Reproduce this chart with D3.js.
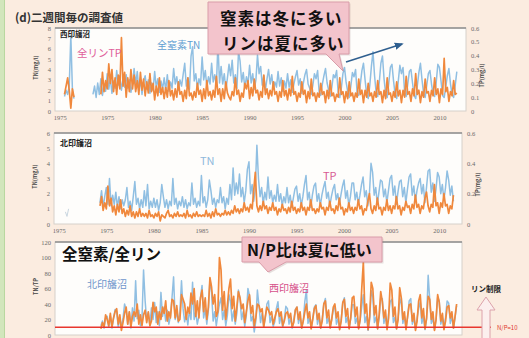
<!DOCTYPE html>
<html><head><meta charset="utf-8">
<script src="https://cdn.jsdelivr.net/npm/d3@7"></script>
<style>
html,body{margin:0;padding:0;background:#fbece0;}
svg{display:block;}
</style></head><body>
<svg id="chart" width="529" height="338"></svg>
<script>
// ---- data: biweekly survey values, sampled every two months ----
const STEP = 1 / 6;                 // years between samples
const tickYears  = [1970, 1975, 1980, 1985, 1990, 1995, 2000, 2005, 2010];
const tickLabels = ["1975", "1975", "1980", "1985", "1990", "1995", "2000", "2005", "2010"];

// 西印旛沼 total nitrogen (mg/l)
const tnWestEarlyStart = 1970.5;
const tnWestEarly = [1.4, 2.0, 1.6, 2.4, 7.3, 2.1, 1.2];
const tnWestStart = 1973.5;
const tnWest = [
  1.6, 2.4, 1.3,
  2.7, 1.6, 3.1, 1.5, 2.6, 1.9,
  3.6, 2.1, 3.2, 1.7, 2.9, 2.2,
  3.9, 2.5, 3.4, 2.0, 3.1, 2.3,
  3.5, 2.2, 3.0, 1.8, 2.6, 4.1,
  2.6, 3.8, 2.0, 3.0, 1.6, 2.9,
  3.4, 2.1, 3.0, 1.7, 2.7, 2.0,
  3.8, 2.3, 3.1, 1.8, 2.9, 2.1,
  3.2, 2.0, 3.5, 1.9, 2.8, 2.2,
  4.1, 2.6, 3.3, 2.0, 3.0, 2.4,
  3.5, 4.6, 2.4, 3.2, 2.1, 5.3,
  6.2, 2.9, 3.6, 2.2, 3.1, 2.5,
  5.2, 3.0, 3.9, 2.3, 3.3, 2.6,
  4.6, 2.8, 3.5, 2.4, 6.5, 2.7,
  4.3, 2.6, 3.6, 2.0, 3.2, 4.5,
  3.4, 4.9, 2.7, 3.5, 2.2, 5.7,
  4.8, 2.8, 3.7, 2.2, 3.3, 2.6,
  4.4, 2.7, 3.6, 2.1, 3.0, 5.4,
  3.6, 4.3, 2.5, 3.4, 2.0, 3.1,
  4.0, 2.6, 3.5, 2.1, 2.8, 2.3,
  3.8, 2.4, 3.2, 1.9, 2.9, 2.2,
  3.6, 2.3, 3.0, 1.8, 2.6, 3.3,
  3.9, 2.5, 3.1, 1.7, 2.7, 3.5,
  4.0, 2.6, 2.2, 1.6, 2.5, 3.6,
  3.1, 3.9, 1.8, 1.5, 2.6, 3.4,
  4.1, 2.7, 2.0, 1.4, 2.3, 3.5,
  3.2, 3.9, 1.8, 1.3, 2.2, 3.6,
  4.2, 2.8, 1.9, 1.3, 2.4, 3.7,
  3.3, 4.0, 1.7, 1.5, 2.6, 3.9,
  4.6, 3.0, 1.6, 1.2, 2.5, 4.3,
  5.7, 3.4, 1.8, 1.4, 2.8, 4.6,
  5.3, 3.1, 1.7, 1.3, 2.7, 4.2,
  4.5, 2.9, 1.6, 1.2, 2.9, 4.4,
  3.6, 4.2, 1.8, 1.4, 2.6, 3.8,
  4.0, 2.7, 1.5, 1.2, 2.4, 3.7,
  4.6, 3.0, 1.7, 1.3, 2.5, 3.6,
  3.9, 2.6, 1.6, 1.4, 2.8, 4.5,
  4.2, 2.9, 1.5, 1.3, 2.3, 3.4,
  4.1, 2.6, 1.6, 1.3, 2.5, 3.8
];

// 西印旛沼 total phosphorus (mg/l)
const tpWestEarlyStart = 1970.5;
const tpWestEarly = [0.12, 0.18, 0.24, 0.15, 0.02, 0.16, 0.10];
const tpWestStart = 1974 + 2 / 6;
const tpWest = [
  0.12, 0.28, 0.14, 0.22,
  0.16, 0.34, 0.20, 0.30, 0.14, 0.24,
  0.12, 0.26, 0.16, 0.53, 0.18, 0.28,
  0.10, 0.24, 0.14, 0.30, 0.16, 0.26,
  0.14, 0.22, 0.12, 0.28, 0.15, 0.23,
  0.11, 0.21, 0.13, 0.27, 0.14, 0.20,
  0.08, 0.18, 0.11, 0.24, 0.12, 0.17,
  0.09, 0.17, 0.10, 0.22, 0.11, 0.15,
  0.08, 0.16, 0.10, 0.21, 0.12, 0.14,
  0.07, 0.15, 0.09, 0.24, 0.11, 0.13,
  0.08, 0.14, 0.10, 0.20, 0.12, 0.15,
  0.07, 0.16, 0.09, 0.22, 0.11, 0.14,
  0.08, 0.15, 0.10, 0.25, 0.12, 0.16,
  0.07, 0.16, 0.09, 0.21, 0.13, 0.10,
  0.08, 0.14, 0.11, 0.24, 0.12, 0.15,
  0.07, 0.13, 0.10, 0.20, 0.16, 0.22,
  0.09, 0.17, 0.11, 0.23, 0.13, 0.15,
  0.08, 0.14, 0.10, 0.26, 0.12, 0.16,
  0.09, 0.15, 0.11, 0.21, 0.12, 0.14,
  0.07, 0.14, 0.10, 0.22, 0.11, 0.15,
  0.08, 0.16, 0.11, 0.25, 0.12, 0.14,
  0.07, 0.13, 0.10, 0.21, 0.12, 0.15,
  0.06, 0.14, 0.09, 0.23, 0.11, 0.13,
  0.07, 0.13, 0.10, 0.20, 0.12, 0.14,
  0.06, 0.15, 0.09, 0.22, 0.11, 0.13,
  0.07, 0.12, 0.10, 0.24, 0.12, 0.14,
  0.06, 0.14, 0.09, 0.21, 0.11, 0.13,
  0.07, 0.13, 0.10, 0.23, 0.12, 0.15,
  0.06, 0.15, 0.10, 0.20, 0.11, 0.13,
  0.07, 0.14, 0.10, 0.22, 0.12, 0.14,
  0.06, 0.15, 0.09, 0.24, 0.12, 0.13,
  0.07, 0.14, 0.10, 0.21, 0.11, 0.15,
  0.06, 0.15, 0.10, 0.25, 0.12, 0.14,
  0.07, 0.16, 0.11, 0.27, 0.12, 0.15,
  0.06, 0.14, 0.10, 0.23, 0.13, 0.14,
  0.07, 0.15, 0.11, 0.24, 0.12, 0.16,
  0.06, 0.16, 0.12, 0.38, 0.14, 0.17,
  0.07, 0.14, 0.11, 0.22, 0.12, 0.13
];

// 北印旛沼 total nitrogen (mg/l)
const tnNorthEarlyStart = 1970.7;
const tnNorthEarly = [0.8, 0.5, 1.0];
const tnNorthStart = 1974 + 2 / 6;
const tnNorth = [
  1.4, 2.2, 1.1, 1.8,
  2.4, 1.3, 3.0, 1.2, 1.9, 1.3,
  2.1, 1.1, 1.8, 1.0, 1.6, 1.2,
  1.6, 2.4, 1.1, 1.5, 0.9, 1.8,
  2.8, 1.3, 1.7, 1.0, 1.6, 1.1,
  2.2, 1.2, 2.6, 1.0, 1.5, 1.1,
  1.7, 1.1, 1.6, 0.9, 1.4, 2.6,
  1.8, 1.1, 1.6, 1.0, 1.5, 1.2,
  3.0, 1.3, 1.7, 1.0, 1.5, 1.2,
  1.8, 1.1, 1.6, 1.0, 1.4, 1.2,
  2.7, 1.3, 1.7, 1.1, 1.5, 1.2,
  3.2, 1.4, 1.8, 1.1, 1.6, 2.9,
  2.2, 1.3, 1.7, 1.1, 1.6, 1.4,
  2.4, 1.4, 1.8, 1.0, 1.7, 1.3,
  2.6, 1.6, 3.7, 1.9, 2.7, 2.0,
  3.3, 1.8, 2.4, 1.4, 2.2, 3.6,
  4.1, 2.0, 2.6, 1.5, 2.3, 5.2,
  3.0, 1.8, 2.4, 1.3, 2.1, 1.6,
  3.1, 1.7, 2.2, 1.4, 1.9, 1.5,
  2.6, 1.5, 2.0, 1.2, 1.8, 1.4,
  2.4, 1.4, 1.9, 1.1, 1.7, 2.3,
  2.5, 1.5, 2.0, 1.2, 1.8, 2.6,
  3.2, 1.6, 2.1, 1.1, 1.9, 2.5,
  2.7, 1.5, 2.0, 1.2, 1.9, 2.4,
  2.8, 1.7, 2.1, 1.2, 1.8, 2.3,
  2.6, 1.6, 2.0, 1.3, 1.9, 2.5,
  2.9, 1.7, 2.2, 1.2, 1.8, 2.7,
  2.7, 1.6, 2.1, 1.3, 1.9, 2.6,
  3.1, 1.8, 2.2, 1.2, 2.0, 4.0,
  3.4, 1.9, 2.4, 1.3, 2.1, 2.9,
  2.8, 1.8, 2.3, 1.4, 2.2, 3.0,
  3.2, 1.9, 2.5, 1.3, 2.1, 2.8,
  2.9, 1.8, 2.4, 1.4, 2.3, 3.1,
  3.3, 1.9, 2.5, 1.5, 2.2, 2.7,
  3.0, 2.0, 2.6, 1.4, 2.4, 3.5,
  3.6, 2.1, 2.7, 1.5, 2.3, 3.4,
  3.1, 2.0, 2.6, 1.6, 2.4, 3.5,
  2.9, 1.9, 2.5, 1.5
];

// 北印旛沼 total phosphorus (mg/l)
const tpNorthStart = 1974 + 2 / 6;
const tpNorth = [
  0.12, 0.18, 0.09, 0.14,
  0.10, 0.25, 0.12, 0.17, 0.08, 0.12,
  0.06, 0.13, 0.08, 0.16, 0.07, 0.10,
  0.05, 0.09, 0.06, 0.12, 0.05, 0.08,
  0.04, 0.08, 0.05, 0.10, 0.05, 0.07,
  0.05, 0.07, 0.04, 0.09, 0.05, 0.06,
  0.04, 0.07, 0.05, 0.08, 0.02, 0.06,
  0.05, 0.04, 0.07, 0.09, 0.05, 0.06,
  0.04, 0.07, 0.05, 0.08, 0.05, 0.06,
  0.05, 0.07, 0.04, 0.09, 0.05, 0.06,
  0.04, 0.07, 0.05, 0.08, 0.05, 0.06,
  0.05, 0.06, 0.05, 0.09, 0.05, 0.07,
  0.04, 0.08, 0.05, 0.10, 0.06, 0.07,
  0.05, 0.07, 0.06, 0.09, 0.06, 0.08,
  0.06, 0.09, 0.07, 0.12, 0.08, 0.10,
  0.07, 0.10, 0.08, 0.14, 0.09, 0.11,
  0.08, 0.13, 0.10, 0.22, 0.34, 0.12,
  0.08, 0.12, 0.09, 0.15, 0.10, 0.12,
  0.07, 0.11, 0.09, 0.14, 0.09, 0.11,
  0.06, 0.10, 0.08, 0.13, 0.09, 0.10,
  0.07, 0.11, 0.08, 0.15, 0.09, 0.11,
  0.07, 0.10, 0.08, 0.14, 0.09, 0.11,
  0.06, 0.11, 0.09, 0.16, 0.09, 0.10,
  0.07, 0.10, 0.08, 0.14, 0.10, 0.11,
  0.06, 0.11, 0.09, 0.15, 0.09, 0.10,
  0.07, 0.12, 0.09, 0.17, 0.10, 0.11,
  0.06, 0.10, 0.08, 0.14, 0.09, 0.11,
  0.07, 0.11, 0.09, 0.16, 0.10, 0.12,
  0.06, 0.10, 0.09, 0.15, 0.20, 0.10,
  0.07, 0.12, 0.09, 0.17, 0.10, 0.11,
  0.06, 0.11, 0.09, 0.16, 0.09, 0.12,
  0.07, 0.12, 0.10, 0.18, 0.10, 0.12,
  0.06, 0.11, 0.09, 0.15, 0.11, 0.12,
  0.07, 0.13, 0.10, 0.19, 0.11, 0.13,
  0.07, 0.12, 0.10, 0.17, 0.21, 0.12,
  0.08, 0.13, 0.11, 0.26, 0.12, 0.14,
  0.07, 0.14, 0.11, 0.20, 0.12, 0.13,
  0.07, 0.12, 0.10, 0.19
];

// TN/TP ratios
const npNorthStart = 1974 + 2 / 6;
const npNorth = [
  12, 18, 9, 22,
  24, 10, 25, 9, 21, 33,
  30, 10, 22, 10, 21, 40,
  32, 14, 30, 9, 35, 18,
  70, 21, 32, 12, 20, 84,
  44, 18, 29, 12, 35, 20,
  42, 16, 30, 12, 55, 24,
  36, 18, 32, 14, 24, 48,
  75, 20, 30, 16, 30, 70,
  34, 17, 28, 13, 32, 20,
  68, 20, 30, 14, 24, 48,
  64, 22, 34, 14, 32, 72,
  55, 18, 30, 12, 26, 40,
  48, 20, 32, 12, 25, 52,
  43, 18, 31, 14, 28, 58,
  47, 20, 30, 11, 25, 60,
  51, 18, 24, 4, 18, 58,
  38, 16, 28, 11, 21, 40,
  44, 16, 24, 11, 17, 34,
  43, 15, 25, 10, 20, 37,
  34, 14, 22, 9, 19, 33,
  36, 15, 24, 9, 18, 43,
  58, 15, 22, 9, 21, 36,
  39, 14, 23, 9, 21, 40,
  47, 15, 22, 10, 20, 33,
  37, 14, 21, 8, 20, 42,
  48, 16, 23, 9, 21, 39,
  39, 15, 22, 9, 20, 37,
  52, 16, 24, 6, 19, 57,
  49, 16, 23, 8, 22, 48,
  47, 15, 24, 9, 28, 43,
  46, 16, 23, 8, 23, 40,
  48, 15, 24, 9, 23, 44,
  47, 14, 22, 8, 22, 34,
  43, 15, 24, 7, 20, 77,
  45, 15, 22, 7, 20, 49,
  44, 14, 22, 8, 23, 44,
  41, 15, 24, 9, 22, 38
];
const npWestStart = 1974 + 2 / 6;
const npWest = [
  8, 16, 10, 26,
  20, 12, 28, 10, 22, 30,
  34, 14, 26, 6, 16, 28,
  36, 14, 30, 10, 24, 30,
  24, 40, 14, 26, 12, 26,
  32, 16, 30, 12, 18, 42,
  30, 36, 14, 30, 20, 36,
  28, 44, 18, 30, 22, 46,
  44, 22, 38, 18, 20, 52,
  46, 40, 20, 36, 28, 54,
  40, 60, 24, 44, 22, 48,
  58, 30, 48, 20, 36, 74,
  62, 40, 52, 24, 30, 100,
  84, 32, 56, 20, 38, 60,
  72, 34, 50, 18, 36, 56,
  48, 34, 40, 16, 30, 44,
  52, 28, 38, 12, 22, 40,
  38, 30, 34, 10, 24, 36,
  32, 26, 30, 14, 22, 30,
  34, 24, 30, 12, 18, 28,
  30, 22, 28, 10, 16, 32,
  36, 20, 30, 9, 18, 30,
  40, 22, 30, 8, 20, 34,
  38, 20, 28, 9, 18, 40,
  44, 22, 32, 9, 20, 36,
  40, 22, 30, 7, 18, 42,
  46, 24, 34, 8, 22, 48,
  50, 24, 36, 8, 20, 60,
  94, 28, 40, 7, 24, 68,
  60, 26, 38, 8, 26, 56,
  43, 22, 32, 7, 22, 67,
  58, 24, 36, 8, 20, 61,
  48, 20, 30, 7, 24, 39,
  40, 18, 28, 6, 18, 44,
  52, 22, 34, 8, 22, 50,
  46, 20, 30, 6, 20, 52,
  42, 18, 28, 7, 18, 36,
  38, 22, 30, 9, 24, 40
];
const npLimit = 10;

// ---- drawing ----
const W = 529, H = 338;
const BLUE = "#90bfe2", ORANGE = "#f0883c";
const svg = d3.select("#chart");
const CJK = "'Noto Sans CJK JP', 'Noto Sans', sans-serif";
const SERIF = "'Liberation Serif', 'DejaVu Serif', serif";

svg.append("rect").attr("width", W).attr("height", H).attr("fill", "#fbece0");
svg.append("rect").attr("x", 0).attr("y", 0).attr("width", 4).attr("height", H).attr("fill", "#d2e6bc");
svg.append("line").attr("x1", 4.5).attr("x2", 4.5).attr("y1", 0).attr("y2", H)
  .attr("stroke", "#b9d7a0").attr("stroke-width", 1);

const toPoints = (start, vals) => vals.map((v, i) => ({ t: start + i * STEP, v }));

function panel(cfg, idx) {
  const g = svg.append("g");
  const x = d3.scaleLinear().domain(cfg.xDomain).range([cfg.x0, cfg.x1]);
  const yL = d3.scaleLinear().domain(cfg.leftDomain).range([cfg.y1, cfg.y0]);
  const yR = cfg.rightDomain ? d3.scaleLinear().domain(cfg.rightDomain).range([cfg.y1, cfg.y0]) : null;

  g.append("rect").attr("x", cfg.x0).attr("y", cfg.y0)
    .attr("width", cfg.x1 - cfg.x0).attr("height", cfg.y1 - cfg.y0)
    .attr("fill", "#fefdfb").attr("stroke", "#d6d0ca").attr("stroke-width", 1);
  g.append("line").attr("x1", cfg.x0).attr("x2", cfg.x1).attr("y1", cfg.y0).attr("y2", cfg.y0)
    .attr("stroke", "#8e8e8e").attr("stroke-width", 1.3);

  const clipId = "clip" + idx;
  svg.append("clipPath").attr("id", clipId).append("rect")
    .attr("x", cfg.x0).attr("y", cfg.y0 - 1).attr("width", cfg.x1 - cfg.x0).attr("height", cfg.y1 - cfg.y0 + 1);
  const lines = g.append("g").attr("clip-path", `url(#${clipId})`);

  cfg.series.forEach(s => {
    const ys = s.axis === "right" ? yR : yL;
    const line = d3.line().x(d => x(d.t)).y(d => ys(d.v));
    lines.append("path").datum(toPoints(s.start, s.values))
      .attr("d", line).attr("fill", "none")
      .attr("stroke", s.color).attr("stroke-width", s.width)
      .attr("stroke-linejoin", "round");
  });

  const styleAxis = sel => {
    sel.select(".domain").remove();
    sel.selectAll("text").style("font-family", SERIF).style("font-size", "6.5px").attr("fill", "#6a6a6a");
  };

  g.append("g").attr("transform", `translate(${cfg.x0},0)`)
    .call(d3.axisLeft(yL).tickValues(cfg.leftTicks).tickSize(0).tickPadding(4).tickFormat(d3.format("d")))
    .call(styleAxis);

  if (yR) {
    g.append("g").attr("transform", `translate(${cfg.x1},0)`)
      .call(d3.axisRight(yR).tickValues(cfg.rightTicks).tickSize(0).tickPadding(5)
        .tickFormat(d => d === 0 ? "0" : d3.format(".1f")(d)))
      .call(styleAxis);
  }
  if (cfg.xLabels) {
    g.append("g").attr("transform", `translate(0,${cfg.y1})`)
      .call(d3.axisBottom(x).tickValues(tickYears).tickSize(0).tickPadding(4)
        .tickFormat((d, i) => tickLabels[i]))
      .call(styleAxis);
  }

  const vtitle = (text, tx, ty) => g.append("text")
    .attr("transform", `translate(${tx},${ty}) rotate(-90)`)
    .attr("text-anchor", "middle").attr("font-family", CJK).attr("font-weight", "bold")
    .attr("font-size", 5.5).attr("fill", "#444").text(text);
  vtitle(cfg.leftTitle, cfg.x0 - 17, (cfg.y0 + cfg.y1) / 2 - 2);
  if (cfg.rightTitle) vtitle(cfg.rightTitle, cfg.x1 + 18, (cfg.y0 + cfg.y1) / 2 + 6);

  return { g, x, yL, yR };
}

// panel 1: 西印旛沼
const p1 = panel({
  x0: 55, x1: 466, y0: 28, y1: 111, xDomain: [1969.5, 2012.8],
  leftDomain: [0, 8], leftTicks: d3.range(0, 9, 1),
  rightDomain: [0, 0.6], rightTicks: [0, 0.1, 0.2, 0.3, 0.4, 0.5, 0.6],
  xLabels: true, leftTitle: "TN(mg/l)", rightTitle: "TP(mg/l)",
  series: [
    { start: tnWestEarlyStart, values: tnWestEarly, axis: "left", color: BLUE, width: 1.5 },
    { start: tnWestStart, values: tnWest, axis: "left", color: BLUE, width: 1.5 },
    { start: tpWestEarlyStart, values: tpWestEarly, axis: "right", color: ORANGE, width: 1.7 },
    { start: tpWestStart, values: tpWest, axis: "right", color: ORANGE, width: 1.7 }
  ]
}, 1);

// panel 2: 北印旛沼
const p2 = panel({
  x0: 54, x1: 462, y0: 133, y1: 224, xDomain: [1969.5, 2012.4],
  leftDomain: [0, 6], leftTicks: d3.range(0, 7, 1),
  rightDomain: [0, 0.6], rightTicks: [0, 0.2, 0.4, 0.6],
  xLabels: true, leftTitle: "TN(mg/l)", rightTitle: "TP(mg/l)",
  series: [
    { start: tnNorthEarlyStart, values: tnNorthEarly, axis: "left", color: "#c9d6e0", width: 1.0 },
    { start: tnNorthStart, values: tnNorth, axis: "left", color: BLUE, width: 1.5 },
    { start: tpNorthStart, values: tpNorth, axis: "right", color: ORANGE, width: 1.7 }
  ]
}, 2);

// panel 3: TN/TP
const p3 = panel({
  x0: 55, x1: 462, y0: 242, y1: 335, xDomain: [1969.5, 2012.4],
  leftDomain: [0, 120], leftTicks: d3.range(0, 121, 20),
  xLabels: false, leftTitle: "TN/TP",
  series: [
    { start: npNorthStart, values: npNorth, axis: "left", color: BLUE, width: 1.5 },
    { start: npWestStart, values: npWest, axis: "left", color: ORANGE, width: 1.7 }
  ]
}, 3);

// N/P reference line, running past the plot to its label
svg.append("line").attr("x1", 55).attr("x2", 491)
  .attr("y1", p3.yL(npLimit)).attr("y2", p3.yL(npLimit))
  .attr("stroke", "#e8372e").attr("stroke-width", 1.6);
svg.append("text").attr("x", 497).attr("y", p3.yL(npLimit) + 2.5)
  .attr("font-family", CJK).attr("font-size", 6).attr("fill", "#e0372e").text("N/P=" + npLimit);

// texts
const txt = (s, x, y, size, color, weight) => svg.append("text")
  .attr("x", x).attr("y", y).attr("font-family", CJK).attr("font-size", size)
  .attr("fill", color).attr("font-weight", weight || "normal").text(s);

txt("(d)二週間毎の調査値", 15, 22, 11.5, "#333", "bold");
txt("西印旛沼", 60, 37, 7.5, "#222", "bold");
txt("全リンTP", 77, 57, 10.5, "#e0609a");
txt("全窒素TN", 157, 49, 10, "#5f9dd2");
txt("北印旛沼", 60, 146, 8, "#222", "bold");
txt("TN", 200, 165, 11, "#8fb9dc");
txt("TP", 323, 180, 11, "#d85a94");
txt("全窒素/全リン", 62, 260, 15.5, "#111", "bold");
txt("北印旛沼", 87, 288, 10, "#6f95cc");
txt("西印旛沼", 269, 292, 10, "#d6508a");
txt("リン制限", 471, 292, 7.5, "#222", "bold");

// callouts
const callout = (d) => {
  svg.append("path").attr("d", d).attr("transform", "translate(1.5,1.5)").attr("fill", "rgba(120,90,90,0.18)");
  svg.append("path").attr("d", d).attr("fill", "#f3c4cc").attr("stroke", "#d99ca9").attr("stroke-width", 1);
};
callout("M208,2 H349 V54 H339 L343,71 L326,54 H208 Z");
txt("窒素は冬に多い", 220, 25, 16.5, "#111", "bold").attr("letter-spacing", 1);
txt("リンは夏に多い", 222, 49.5, 16.5, "#111", "bold").attr("letter-spacing", 1);

callout("M242,237 H382 V262 H286 L268,272 L259,262 H242 Z");
txt("N/P比は夏に低い", 247, 256, 16, "#111", "bold");

// trend arrow
svg.append("defs").append("marker").attr("id", "head").attr("viewBox", "0 0 10 10")
  .attr("refX", 8).attr("refY", 5).attr("markerWidth", 6).attr("markerHeight", 6)
  .attr("orient", "auto").append("path").attr("d", "M0,1 L10,5 L0,9 Z").attr("fill", "#2f5f8f");
svg.append("line").attr("x1", 346).attr("y1", 62).attr("x2", 402).attr("y2", 44)
  .attr("stroke", "#2f5f8f").attr("stroke-width", 1.5).attr("marker-end", "url(#head)");

// hollow up arrow for phosphorus limitation
svg.append("path").attr("d", "M486,297 L495,310 L490,310 L490,340 L482,340 L482,310 L477,310 Z")
  .attr("fill", "#fcefee").attr("stroke", "#dca2ab").attr("stroke-width", 1);
</script>
</body></html>
